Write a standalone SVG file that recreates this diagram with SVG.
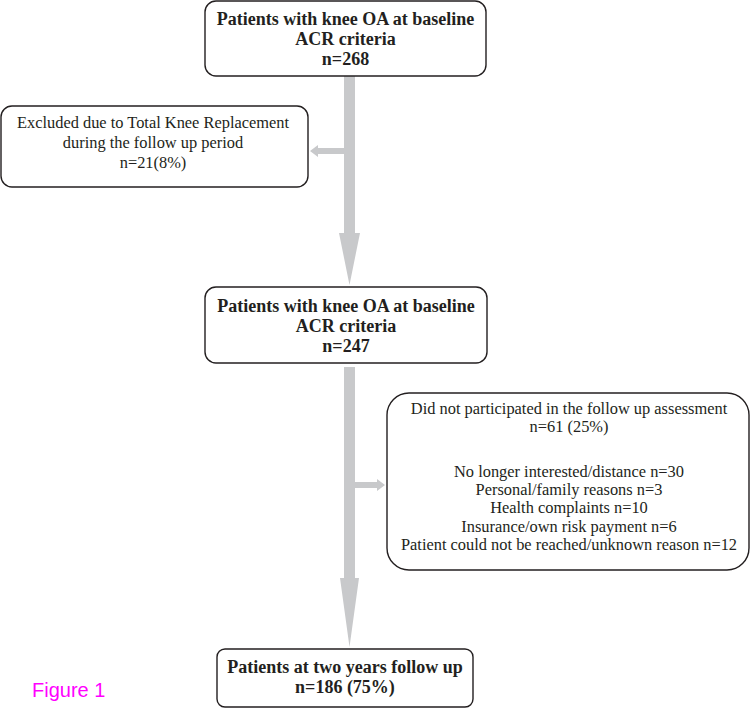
<svg xmlns="http://www.w3.org/2000/svg" width="751" height="708" viewBox="0 0 751 708">
<style>
.box{fill:#fff;stroke:#231f20;stroke-width:1.4}
.b{font-family:"Liberation Serif","Times New Roman",serif;font-weight:bold;font-size:18px;fill:#231f20;text-anchor:middle}
.r{font-family:"Liberation Serif","Times New Roman",serif;font-size:16.4px;fill:#231f20;text-anchor:middle}
.arr{fill:#c8c9cb;stroke:none}
</style>
<rect width="751" height="708" fill="#fff"/>
<g id="connectors">
<polygon class="arr" points="344,76 355,76 355,233 360,233 349.5,285 339,233 344,233"/>
<polygon class="arr" points="344,148 318,148 318,145 310,151 318,157 318,154 344,154"/>
<polygon class="arr" points="344,367 355,367 355,578 359,578 349.5,647 340,578 344,578"/>
<polygon class="arr" points="355,482 377,482 377,479 385,485 377,491 377,488 355,488"/>
</g>
<g id="n1">
<rect class="box" x="205" y="1" width="281" height="75" rx="11"/>
<text class="b" x="345.5" y="25">Patients with knee OA at baseline</text>
<text class="b" x="345.5" y="45">ACR criteria</text>
<text class="b" x="345.5" y="65">n=268</text>
</g>
<g id="n2">
<rect class="box" x="1" y="106" width="307" height="81" rx="11"/>
<text class="r" x="153" y="128">Excluded due to Total Knee Replacement</text>
<text class="r" x="153" y="148">during the follow up period</text>
<text class="r" x="153" y="168">n=21(8%)</text>
</g>
<g id="n3">
<rect class="box" x="205" y="287" width="282" height="76" rx="11"/>
<text class="b" x="346" y="312">Patients with knee OA at baseline</text>
<text class="b" x="346" y="332">ACR criteria</text>
<text class="b" x="346" y="352">n=247</text>
</g>
<g id="n4">
<rect class="box" x="387" y="393" width="362" height="177" rx="22"/>
<text class="r" x="569" y="414">Did not participated in the follow up assessment</text>
<text class="r" x="569" y="432">n=61 (25%)</text>
<text class="r" x="569" y="477">No longer interested/distance n=30</text>
<text class="r" x="569" y="495">Personal/family reasons n=3</text>
<text class="r" x="569" y="513">Health complaints n=10</text>
<text class="r" x="569" y="532">Insurance/own risk payment n=6</text>
<text class="r" x="569" y="550">Patient could not be reached/unknown reason n=12</text>
</g>
<g id="n5">
<rect class="box" x="217" y="649" width="256" height="58" rx="8"/>
<text class="b" x="345" y="673">Patients at two years follow up</text>
<text class="b" x="345" y="693">n=186 (75%)</text>
</g>
<text x="32" y="697" font-family="'Liberation Sans',Arial,sans-serif" font-size="20" fill="#ff00ff">Figure 1</text>
</svg>
